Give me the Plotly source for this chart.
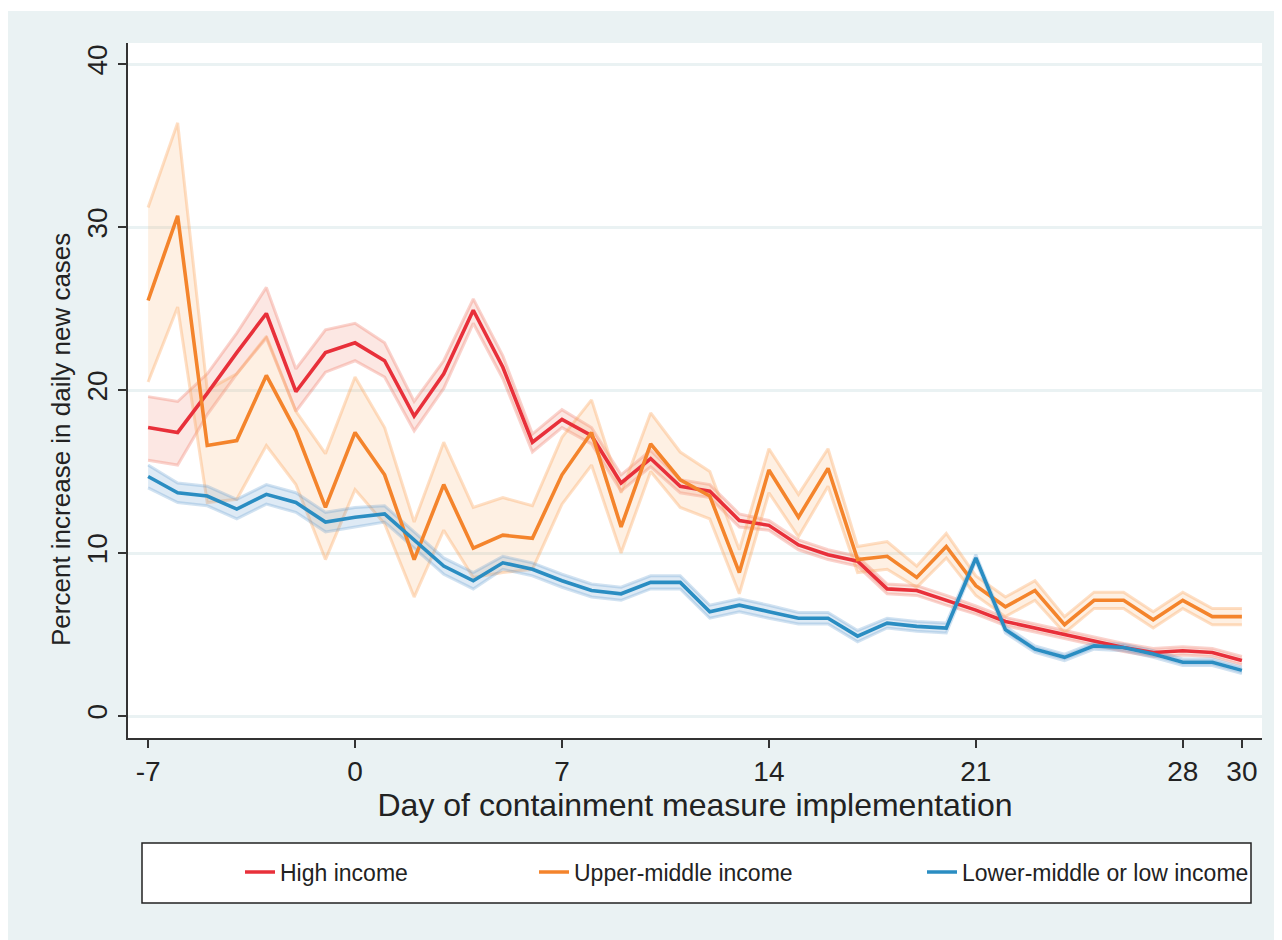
import plotly.graph_objects as go

days = list(range(-7, 31))

high_mean = [17.7, 17.4, 19.8, 22.3, 24.7, 19.9, 22.3, 22.9, 21.8, 18.4, 21.0, 24.9, 21.4, 16.8,
             18.2, 17.2, 14.3, 15.8, 14.1, 13.8, 12.0, 11.7, 10.5, 9.9, 9.5, 7.8, 7.7, 7.1,
             6.5, 5.8, 5.4, 5.0, 4.6, 4.2, 3.9, 4.0, 3.9, 3.4]
high_upper = [19.6, 19.3, 21.0, 23.5, 26.3, 21.3, 23.7, 24.1, 22.9, 19.3, 21.8, 25.6, 22.1, 17.3,
              18.8, 17.7, 14.8, 16.3, 14.5, 14.2, 12.4, 12.0, 10.8, 10.2, 9.8, 8.1, 8.0, 7.4,
              6.75, 6.05, 5.65, 5.25, 4.85, 4.45, 4.15, 4.25, 4.15, 3.65]
high_lower = [15.7, 15.4, 18.5, 21.0, 23.2, 18.7, 21.1, 21.8, 20.8, 17.5, 20.1, 24.1, 20.7, 16.2,
              17.7, 16.7, 13.8, 15.3, 13.7, 13.4, 11.6, 11.4, 10.2, 9.6, 9.2, 7.5, 7.4, 6.8,
              6.25, 5.55, 5.15, 4.75, 4.35, 3.95, 3.65, 3.75, 3.65, 3.15]

upper_mid_mean = [25.5, 30.7, 16.6, 16.9, 20.9, 17.5, 12.8, 17.4, 14.8, 9.6, 14.2, 10.3, 11.1, 10.9,
                  14.8, 17.4, 11.6, 16.7, 14.5, 13.5, 8.8, 15.1, 12.2, 15.2, 9.6, 9.8, 8.5, 10.4,
                  8.0, 6.7, 7.7, 5.6, 7.1, 7.1, 5.9, 7.1, 6.1, 6.1]
upper_mid_upper = [31.2, 36.4, 20.0, 21.0, 23.3, 18.7, 16.1, 20.8, 17.7, 11.9, 16.8, 12.8, 13.4, 12.9,
                   17.1, 19.4, 13.7, 18.6, 16.2, 15.0, 10.2, 16.4, 13.6, 16.4, 10.4, 10.7, 9.2, 11.2,
                   8.6, 7.3, 8.3, 6.1, 7.6, 7.6, 6.4, 7.6, 6.6, 6.6]
upper_mid_lower = [20.5, 25.1, 13.1, 13.3, 16.6, 14.2, 9.6, 13.9, 11.8, 7.3, 11.4, 8.5, 8.8, 9.0,
                   13.0, 15.4, 10.0, 15.0, 12.8, 12.1, 7.5, 13.7, 11.0, 14.1, 8.8, 9.0, 7.9, 9.7,
                   7.4, 6.1, 7.1, 5.1, 6.6, 6.6, 5.4, 6.6, 5.6, 5.6]

low_mean = [14.7, 13.7, 13.5, 12.7, 13.6, 13.1, 11.9, 12.2, 12.4, 10.8, 9.2, 8.3, 9.4, 9.0,
            8.3, 7.7, 7.5, 8.2, 8.2, 6.4, 6.8, 6.4, 6.0, 6.0, 4.9, 5.7, 5.5, 5.4,
            9.7, 5.3, 4.1, 3.6, 4.3, 4.2, 3.8, 3.3, 3.3, 2.8]
low_upper = [15.4, 14.3, 14.1, 13.3, 14.2, 13.7, 12.5, 12.8, 12.9, 11.3, 9.7, 8.8, 9.8, 9.4,
             8.7, 8.1, 7.9, 8.6, 8.6, 6.8, 7.2, 6.8, 6.35, 6.35, 5.25, 6.0, 5.8, 5.7,
             9.9, 5.5, 4.3, 3.8, 4.5, 4.4, 4.0, 3.5, 3.5, 3.0]
low_lower = [14.0, 13.1, 12.9, 12.1, 13.0, 12.5, 11.3, 11.6, 11.9, 10.3, 8.7, 7.8, 9.0, 8.6,
             7.9, 7.3, 7.1, 7.8, 7.8, 6.0, 6.4, 6.0, 5.65, 5.65, 4.55, 5.4, 5.2, 5.1,
             9.5, 5.1, 3.9, 3.4, 4.1, 4.0, 3.6, 3.1, 3.1, 2.6]

x_ticks = [-7, 0, 7, 14, 21, 28, 30]
y_ticks = [0, 10, 20, 30, 40]

names = ["High income", "Upper-middle income", "Lower-middle or low income"]
x_title = "Day of containment measure implementation"
y_title = "Percent increase in daily new cases"

line_colors = ["#E8303A", "#F4842C", "#2A8DC2"]
edge_colors = ["rgba(240,110,90,0.30)", "rgba(252,165,95,0.36)", "rgba(90,150,205,0.28)"]
fill_colors = ["rgba(240,110,90,0.17)", "rgba(252,170,100,0.18)", "rgba(90,150,205,0.20)"]

series = [
    (high_mean, high_upper, high_lower),
    (upper_mid_mean, upper_mid_upper, upper_mid_lower),
    (low_mean, low_upper, low_lower),
]

FONT = "Liberation Sans, Arial, sans-serif"

fig = go.Figure()

for i, (m, up, lo) in enumerate(series):
    fig.add_trace(go.Scatter(x=days, y=up, mode="lines",
                             line=dict(color=edge_colors[i], width=3),
                             showlegend=False, hoverinfo="skip"))
    fig.add_trace(go.Scatter(x=days, y=lo, mode="lines", fill="tonexty",
                             fillcolor=fill_colors[i],
                             line=dict(color=edge_colors[i], width=3),
                             showlegend=False, hoverinfo="skip"))

legend_ids = ["legend", "legend2", "legend3"]
for i, (m, up, lo) in enumerate(series):
    fig.add_trace(go.Scatter(x=days, y=m, mode="lines", name=names[i],
                             line=dict(color=line_colors[i], width=3.6),
                             legend=legend_ids[i]))

# The page body has an 8px margin; the figure sits at (8, 8) on the page.
# Plot area on the page: x 128..1262, y 43..738.
W, H = 1274, 940
L, R, T, B = 120, 20, 35, 210
PLOT_L, PLOT_R, PLOT_T, PLOT_B = 128, 1262, 43, 738


def px_x(p):
    return (p - PLOT_L) / (PLOT_R - PLOT_L)


def px_y(p):
    return (PLOT_B - p) / (PLOT_B - PLOT_T)


legend_common = dict(orientation="h", bgcolor="rgba(0,0,0,0)", borderwidth=0,
                     font=dict(family=FONT, size=23, color="#222"),
                     yanchor="middle", xanchor="left", y=px_y(872))

fig.update_layout(
    width=W, height=H,
    margin=dict(l=L, r=R, t=T, b=B),
    paper_bgcolor="#EAF2F3",
    plot_bgcolor="white",
    font=dict(family=FONT, color="#222"),
    legend=dict(x=px_x(240), **legend_common),
    legend2=dict(x=px_x(534), **legend_common),
    legend3=dict(x=px_x(922), **legend_common),
    xaxis=dict(
        range=[-7.68, 30.68],
        tickmode="array", tickvals=x_ticks, ticktext=[str(v) for v in x_ticks],
        ticks="outside", ticklen=8, tickwidth=1.5, tickcolor="#333",
        showline=True, linecolor="#333", linewidth=1.5,
        showgrid=False, zeroline=False,
        tickfont=dict(family=FONT, size=28, color="#222"),
        title=dict(text=x_title,
                   font=dict(family=FONT, size=32, color="#222"), standoff=2),
    ),
    yaxis=dict(
        range=[-1.35, 41.3],
        tickmode="array", tickvals=y_ticks, ticktext=[str(v) for v in y_ticks],
        ticks="outside", ticklen=8, tickwidth=1.5, tickcolor="#333",
        tickangle=-90,
        showline=True, linecolor="#333", linewidth=1.5,
        showgrid=True, gridcolor="#EAF2F3", gridwidth=2.5,
        zeroline=False,
        tickfont=dict(family=FONT, size=28, color="#222"),
    ),
    annotations=[
        dict(text=y_title, xref="paper", yref="paper",
             x=px_x(61), y=px_y(440), xanchor="center", yanchor="middle",
             textangle=-90, showarrow=False,
             font=dict(family=FONT, size=26, color="#222")),
    ],
    shapes=[
        dict(type="rect", xref="paper", yref="paper",
             x0=-0.2, x1=1.1, y0=px_y(11), y1=px_y(-20),
             fillcolor="white", line=dict(width=0), layer="below"),
        dict(type="rect", xref="paper", yref="paper",
             x0=px_x(142), x1=px_x(1251), y0=px_y(903), y1=px_y(843),
             fillcolor="white", line=dict(color="#222", width=1.5), layer="below"),
    ],
)

fig.write_html("out.html")
